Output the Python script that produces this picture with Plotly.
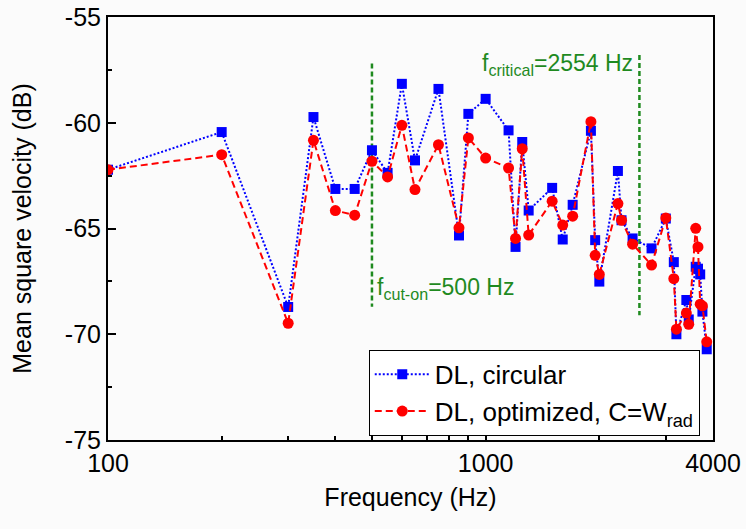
import numpy as np
import plotly.graph_objects as go

freq = [100, 200, 300, 350, 400, 450, 500, 550, 600, 650, 750, 850, 900, 1000,
        1150, 1200, 1250, 1300, 1500, 1600, 1700, 1900, 1950, 2000, 2240, 2290,
        2450, 2750, 3000, 3150, 3200, 3400, 3450, 3600, 3650, 3700, 3750, 3850]

dl_circular = [-62.22, -60.44, -68.71, -59.73, -63.13, -63.13, -61.30, -62.37, -58.16,
               -61.78, -58.40, -65.33, -59.58, -58.87, -60.36, -65.87, -60.91, -64.15,
               -63.08, -65.52, -63.88, -60.38, -65.55, -67.51, -62.28, -64.61, -65.47,
               -65.94, -64.53, -66.59, -70.00, -68.38, -69.30, -66.81, -66.90, -67.17,
               -68.93, -70.71]

dl_optimized = [-62.22, -61.51, -69.48, -60.83, -64.15, -64.37, -61.82, -62.56, -60.12,
                -63.16, -61.04, -64.97, -60.72, -61.67, -62.14, -65.47, -61.23, -65.31,
                -63.71, -64.84, -64.42, -59.95, -66.27, -67.17, -63.82, -64.61, -65.74,
                -66.73, -64.50, -67.37, -69.76, -69.00, -69.53, -64.99, -65.87, -68.58,
                -68.66, -70.36]

cut_on_freq = 500
cut_on_span = [-57.2, -68.7]
critical_freq = 2554
critical_span = [-56.8, -69.1]

x_tickvals = [100, 1000, 4000]
x_ticktext = ["100", "1000", "4000"]
x_minor = [200, 300, 400, 500, 600, 700, 800, 900, 2000, 3000]
y_tickvals = [-75, -70, -65, -60, -55]
y_ticktext = ["-75", "-70", "-65", "-60", "-55"]
y_minor = [-72.5, -67.5, -62.5, -57.5]

FONT = "Liberation Sans, Arial, sans-serif"
GREEN = "#1f8a1f"

fig = go.Figure()

fig.add_trace(go.Scatter(
    x=[cut_on_freq, cut_on_freq], y=cut_on_span, mode="lines",
    line=dict(color=GREEN, width=2.5, dash="5px,3px"), showlegend=False, hoverinfo="skip"))
fig.add_trace(go.Scatter(
    x=[critical_freq, critical_freq], y=critical_span, mode="lines",
    line=dict(color=GREEN, width=2.5, dash="5px,3px"), showlegend=False, hoverinfo="skip"))

fig.add_trace(go.Scatter(
    x=freq, y=dl_circular, mode="lines+markers", name="DL, circular",
    line=dict(color="#0000ff", width=2, dash="2px,2px"),
    marker=dict(symbol="square", size=10, color="#0000ff")))
fig.add_trace(go.Scatter(
    x=freq, y=dl_optimized, mode="lines+markers", name="DL, optimized, C=W<sub>rad</sub>",
    line=dict(color="#ff0000", width=2, dash="7px,4px"),
    marker=dict(symbol="circle", size=11, color="#ff0000")))

fig.add_annotation(x=np.log10(cut_on_freq), y=-67.85, xref="x", yref="y",
                   text="f<sub>cut-on</sub>=500 Hz", showarrow=False,
                   xanchor="left", yanchor="middle", xshift=3,
                   font=dict(family=FONT, size=23, color=GREEN))
fig.add_annotation(x=np.log10(critical_freq), y=-57.25, xref="x", yref="y",
                   text="f<sub>critical</sub>=2554 Hz", showarrow=False,
                   xanchor="right", yanchor="middle", xshift=-4,
                   font=dict(family=FONT, size=23, color=GREEN))

axis_common = dict(showgrid=False, zeroline=False, showline=True, linecolor="black",
                   linewidth=2, mirror=True, ticks="inside", ticklen=8, tickwidth=1.5,
                   tickcolor="black", automargin=False,
                   tickfont=dict(family=FONT, size=25, color="black"))

fig.update_xaxes(type="log", range=[2, np.log10(4000)],
                 tickmode="array", tickvals=x_tickvals, ticktext=x_ticktext,
                 minor=dict(tickmode="array", tickvals=x_minor, ticks="inside",
                            ticklen=4, tickwidth=1.5, tickcolor="black"),
                 title=dict(text="Frequency (Hz)", standoff=12,
                            font=dict(family=FONT, size=25, color="black")),
                 **axis_common)
fig.update_yaxes(range=[-75, -55], tickmode="array", tickvals=y_tickvals,
                 ticktext=y_ticktext,
                 minor=dict(tickmode="array", tickvals=y_minor, ticks="inside",
                            ticklen=4, tickwidth=1.5, tickcolor="black"),
                 title=dict(text="Mean square velocity (dB)", standoff=26,
                            font=dict(family=FONT, size=25, color="black")),
                 **axis_common)

fig.update_layout(
    width=746, height=529,
    margin=dict(l=108, r=33, t=17, b=89),
    paper_bgcolor="#fbfbfb", plot_bgcolor="#fbfbfb",
    font=dict(family=FONT, color="black"),
    legend=dict(x=0.431, y=0.213, xanchor="left", yanchor="top",
                bordercolor="black", borderwidth=1, bgcolor="#ffffff",
                font=dict(family=FONT, size=26, color="black"),
                itemwidth=55, tracegroupgap=0),
)

fig.write_html("out.html", config={"displayModeBar": False},
               post_script="document.body.style.margin='0px';")
